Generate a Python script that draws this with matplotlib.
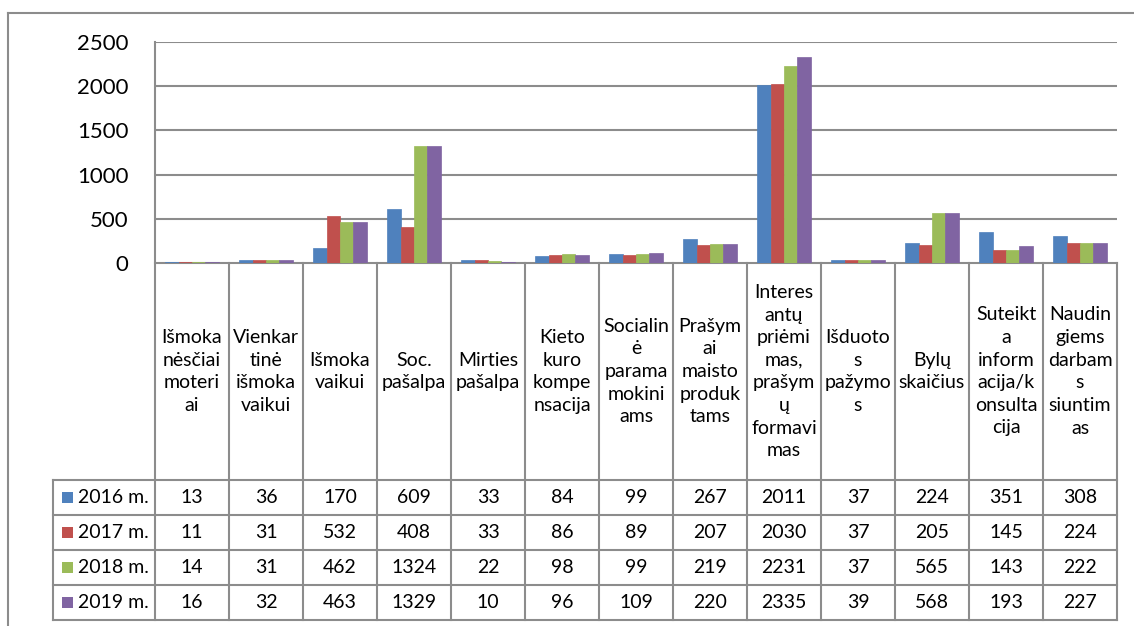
import matplotlib.pyplot as plt
from matplotlib.patches import Rectangle
from matplotlib.lines import Line2D

# Data
categories = [
    "Išmoka\nnėsčiai\nmoteri\nai",
    "Vienkar\ntinė\nišmoka\nvaikui",
    "Išmoka\nvaikui",
    "Soc.\npašalpa",
    "Mirties\npašalpa",
    "Kieto\nkuro\nkompe\nnsacija",
    "Socialin\nė\nparama\nmokini\nams",
    "Prašym\nai\nmaisto\nproduk\ntams",
    "Interes\nantų\npriėmi\nmas,\nprašym\nų\nformavi\nmas",
    "Išduoto\ns\npažymo\ns",
    "Bylų\nskaičius",
    "Suteikt\na\ninform\nacija/k\nonsulta\ncija",
    "Naudin\ngiems\ndarbam\ns\nsiuntim\nas",
]
series_names = ["2016 m.", "2017 m.", "2018 m.", "2019 m."]
v2016 = [13, 36, 170, 609, 33, 84, 99, 267, 2011, 37, 224, 351, 308]
v2017 = [11, 31, 532, 408, 33, 86, 89, 207, 2030, 37, 205, 145, 224]
v2018 = [14, 31, 462, 1324, 22, 98, 99, 219, 2231, 37, 565, 143, 222]
v2019 = [16, 32, 463, 1329, 10, 96, 109, 220, 2335, 39, 568, 193, 227]
series = [v2016, v2017, v2018, v2019]
colors = ["#4F81BD", "#C0504D", "#9BBB59", "#8064A2"]
yticks = [0, 500, 1000, 1500, 2000, 2500]

plt.rcParams['font.family'] = ['Lato', 'DejaVu Sans']
GRID = "#8C8C8C"
FS = 14

W, H = 1134, 626
fig = plt.figure(figsize=(W / 100, H / 100), dpi=100)

# pixel layout
x0, x1 = 155, 1117
ytop, yzero = 42, 263
ax = fig.add_axes([x0 / W, 1 - yzero / H, (x1 - x0) / W, (yzero - ytop) / H])

n = len(categories)
bw = 1 / 5.5
for k, (vals, col) in enumerate(zip(series, colors)):
    xs = [i + (k - 1.5) * bw for i in range(n)]
    ax.bar(xs, vals, width=bw, color=col, edgecolor=col, linewidth=0.5, zorder=3)

ax.set_xlim(-0.5, n - 0.5)
ax.set_ylim(0, 2500)
ax.set_yticks(yticks)
ax.set_yticklabels([str(t) for t in yticks], fontsize=16)
ax.tick_params(axis='y', length=0, pad=19)
ax.set_xticks([])
for t in yticks[1:]:
    ax.axhline(t, color=GRID, linewidth=1.5, zorder=1)
for s in ax.spines.values():
    s.set_visible(False)
ax.patch.set_alpha(0)

# table below the axis, y in axes fraction from pixel rows
def yax(py):
    return (yzero - py) / (yzero - ytop)

row_edges = [480, 515, 550, 585, 620]
leg_left = -0.5 - (x0 - 53) / ((x1 - x0) / n)
blend = ax.get_xaxis_transform()

lkw = dict(color=GRID, linewidth=1.5, transform=blend, clip_on=False, zorder=2)
# zero line / table top
ax.add_line(Line2D([-0.5, n - 0.5], [0, 0], **lkw))
# left axis line, full height
ax.add_line(Line2D([-0.5, -0.5], [1, yax(620)], **lkw))
# category separators
for i in range(n):
    xb = i + 0.5
    ax.add_line(Line2D([xb, xb], [0, yax(620)], **lkw))
# row lines
for py in row_edges:
    ax.add_line(Line2D([leg_left, n - 0.5], [yax(py), yax(py)], **lkw))
ax.add_line(Line2D([leg_left, leg_left], [yax(480), yax(620)], **lkw))

# category labels
for i, lab in enumerate(categories):
    ax.text(i, yax((263 + 480) / 2), lab, transform=blend, ha='center', va='center',
            fontsize=FS, linespacing=1.4, clip_on=False)

# values and legend keys
xpx = (x1 - x0) / n
for r, (name, vals, col) in enumerate(zip(series_names, series, colors)):
    yc = yax((row_edges[r] + row_edges[r + 1]) / 2)
    for i, v in enumerate(vals):
        ax.text(i, yc, str(v), transform=blend, ha='center', va='center',
                fontsize=FS, clip_on=False)
    ax.add_patch(Rectangle((leg_left + 9 / xpx, yc - 5.5 / (yzero - ytop)), 11 / xpx, 11 / (yzero - ytop),
                           transform=blend, facecolor=col, edgecolor='none', clip_on=False))
    ax.text(leg_left + 25 / xpx, yc, name, transform=blend, ha='left', va='center',
            fontsize=FS, clip_on=False)

# outer chart border (top and left visible)
fig.add_artist(Line2D([8 / W, 1], [1 - 13 / H, 1 - 13 / H], color=GRID, linewidth=1.5))
fig.add_artist(Line2D([8 / W, 8 / W], [0, 1 - 13 / H], color=GRID, linewidth=1.5))

fig.savefig("out.png", dpi=100)
